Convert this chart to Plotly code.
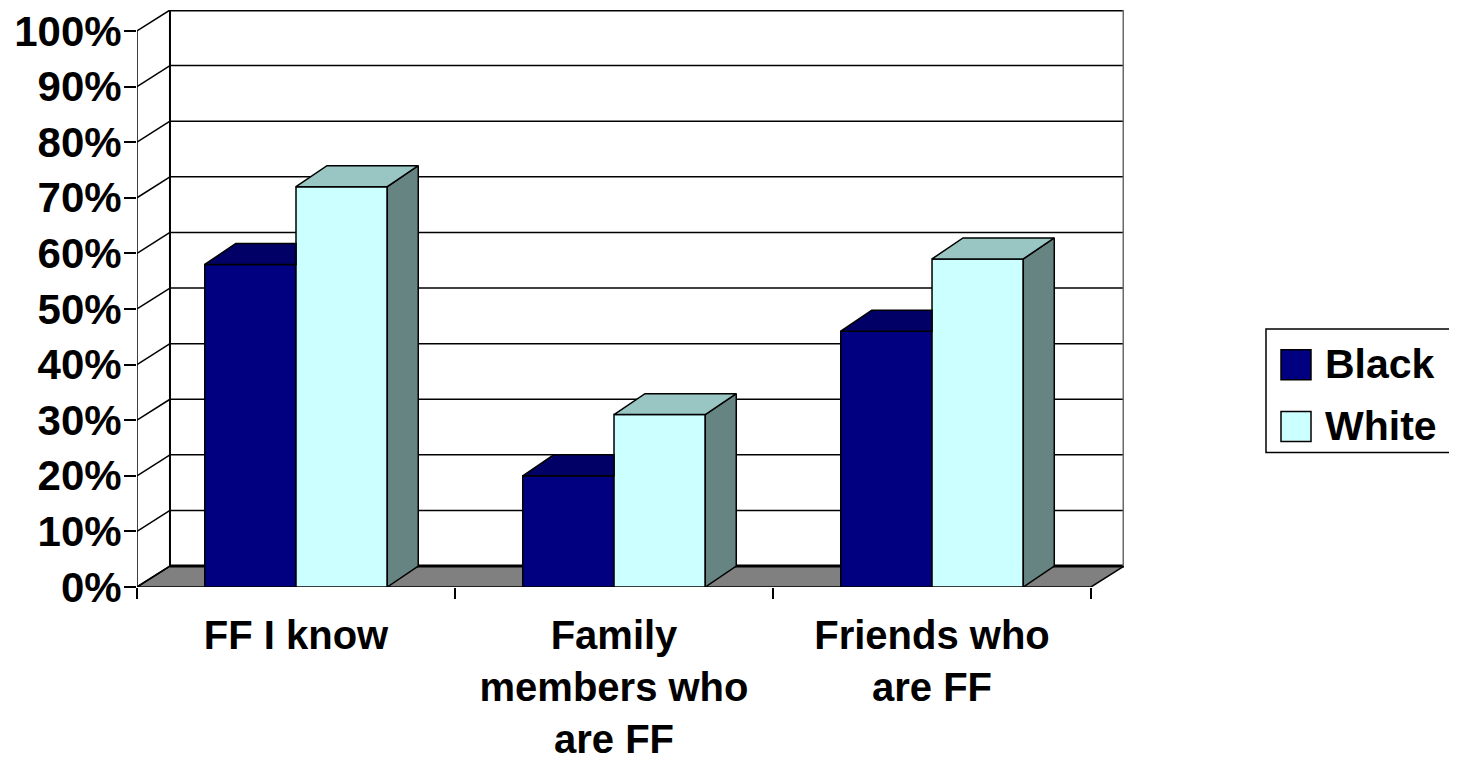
import plotly.graph_objects as go

# ---------------- data ----------------
categories = ["FF I know", "Family<br>members who<br>are FF", "Friends who<br>are FF"]
series_names = ["Black", "White"]
black_values = [58, 20, 46]
white_values = [72, 31, 59]
y_ticks = [0, 10, 20, 30, 40, 50, 60, 70, 80, 90, 100]
y_tick_labels = [f"{t}%" for t in y_ticks]

# ---------------- style / geometry ----------------
FONT = "Arial, 'Liberation Sans', sans-serif"
W, H = 1457, 763
PAGE = 8                      # default body margin of the html page
# plot area wanted in page pixels: left 137, right 1124, top ~7, bottom 587
ML = 137 - PAGE
MT = 0
MB = H - (587 - PAGE)
MR = W - (1124 - PAGE)
PLOT_W = W - ML - MR
PLOT_H = H - MT - MB
CAT_PX = 318.2                # px per category on front plane
Y_PX = (PLOT_H - 21) / 100.0  # px per percent
DXW = 33 / CAT_PX             # wall depth (x units)
DY = 21 / Y_PX                # depth (y units)
DXB = 31 / CAT_PX             # bar depth (x units)
DYB = DY
BAR_W = 0.287

front_cols = {"Black": "#000080", "White": "#CCFFFF"}
top_cols = {"Black": "#000066", "White": "#99C5C3"}
side_cols = {"Black": "#000040", "White": "#668482"}

xpos = list(range(len(categories)))
series_vals = {"Black": black_values, "White": white_values}
offsets = {"Black": -BAR_W, "White": 0.0}

fig = go.Figure()

# front faces
for s in series_names:
    fig.add_trace(go.Bar(
        x=xpos, y=series_vals[s], width=BAR_W, offset=offsets[s], name=s,
        marker=dict(color=front_cols[s], line=dict(color="black", width=1.5)),
        showlegend=False, hoverinfo="skip"))

# top and side faces (oblique projection)
for si, s in enumerate(series_names):
    tx, ty, sx, sy = [], [], [], []
    for i, v in enumerate(series_vals[s]):
        x0 = i + offsets[s]
        x1 = x0 + BAR_W
        nxt = None
        if si + 1 < len(series_names):
            nxt = series_vals[series_names[si + 1]][i]
        if nxt is not None and nxt >= v + DYB:
            tx += [x0, x1, x1, x0 + DXB, x0, None]
            ty += [v, v, v + DYB, v + DYB, v, None]
        else:
            tx += [x0, x1, x1 + DXB, x0 + DXB, x0, None]
            ty += [v, v, v + DYB, v + DYB, v, None]
            sx += [x1, x1 + DXB, x1 + DXB, x1, x1, None]
            sy += [0, DYB, v + DYB, v, 0, None]
    if sx:
        fig.add_trace(go.Scatter(x=sx, y=sy, mode="lines", fill="toself",
                                 fillcolor=side_cols[s], line=dict(color="black", width=1.5),
                                 showlegend=False, hoverinfo="skip"))
    fig.add_trace(go.Scatter(x=tx, y=ty, mode="lines", fill="toself",
                             fillcolor=top_cols[s], line=dict(color="black", width=1.5),
                             showlegend=False, hoverinfo="skip"))

x_lo, x_hi = -0.5, len(categories) - 0.5
shapes = []
# floor
shapes.append(dict(type="path", layer="below", xref="x", yref="y",
                   path=f"M {x_lo} 0 L {x_hi} 0 L {x_hi + DXW} {DY} L {x_lo + DXW} {DY} Z",
                   fillcolor="#808080", line=dict(color="black", width=1.5)))
# back wall gridlines and left wall diagonals
for t in y_ticks:
    shapes.append(dict(type="line", layer="below", xref="x", yref="y",
                       x0=x_lo + DXW, x1=x_hi + DXW, y0=t + DY, y1=t + DY,
                       line=dict(color="black", width=3 if t in (0, 100) else 1.5)))
    shapes.append(dict(type="line", layer="below", xref="x", yref="y",
                       x0=x_lo, x1=x_lo + DXW, y0=t, y1=t + DY,
                       line=dict(color="black", width=1.5)))
# back wall edges
shapes.append(dict(type="line", layer="below", xref="x", yref="y",
                   x0=x_lo + DXW, x1=x_lo + DXW, y0=DY, y1=100 + DY,
                   line=dict(color="black", width=2)))
shapes.append(dict(type="line", layer="below", xref="x", yref="y",
                   x0=x_hi + DXW, x1=x_hi + DXW, y0=DY, y1=100 + DY,
                   line=dict(color="#6a6a6a", width=3)))
# front value axis line
shapes.append(dict(type="line", layer="above", xref="x", yref="y",
                   x0=x_lo, x1=x_lo, y0=0, y1=100,
                   line=dict(color="black", width=1.5)))

# custom legend (positions given in page pixels)
def px_to_paper_x(px):
    return (px - PAGE - ML) / PLOT_W

def px_to_paper_y(py):
    return (H - MB - (py - PAGE)) / PLOT_H

shapes.append(dict(type="rect", xref="paper", yref="paper",
                   x0=px_to_paper_x(1266), x1=px_to_paper_x(1455),
                   y0=px_to_paper_y(452), y1=px_to_paper_y(328),
                   line=dict(color="black", width=1.5), fillcolor="white"))
annotations = []
for s, cy in zip(series_names, [364, 426]):
    shapes.append(dict(type="rect", xref="paper", yref="paper",
                       x0=px_to_paper_x(1281), x1=px_to_paper_x(1311),
                       y0=px_to_paper_y(cy + 15), y1=px_to_paper_y(cy - 15),
                       line=dict(color="black", width=1.5), fillcolor=front_cols[s]))
    annotations.append(dict(xref="paper", yref="paper", x=px_to_paper_x(1323),
                            y=px_to_paper_y(cy - 1), text=s, showarrow=False,
                            xanchor="left", yanchor="middle",
                            font=dict(family=FONT, size=41, color="black", weight="bold")))

fig.update_layout(
    width=W, height=H,
    margin=dict(l=ML, r=MR, t=MT, b=MB, pad=0),
    paper_bgcolor="white", plot_bgcolor="white",
    barmode="overlay",
    showlegend=False,
    shapes=shapes, annotations=annotations,
    xaxis=dict(range=[x_lo, x_hi + DXW], tickmode="array", tickvals=xpos,
               ticktext=categories, ticks="", showgrid=False, zeroline=False,
               showline=False, ticklabelstandoff=21, ticklabeloverflow="allow",
               tickfont=dict(family=FONT, size=40, color="black", weight="bold"),
               minor=dict(tickmode="array", tickvals=[x_lo + k for k in range(len(categories) + 1)],
                          ticks="outside", ticklen=11, tickwidth=1.5, tickcolor="black",
                          showgrid=False)),
    yaxis=dict(range=[0, 100 + DY], tickmode="array", tickvals=y_ticks,
               ticktext=y_tick_labels, ticks="outside", ticklen=12, tickwidth=1.5,
               tickcolor="black", showgrid=False, zeroline=False, showline=False,
               ticklabelstandoff=-6, ticklabeloverflow="allow",
               tickfont=dict(family=FONT, size=42, color="black", weight="bold")),
)

fig.write_html("out.html")
